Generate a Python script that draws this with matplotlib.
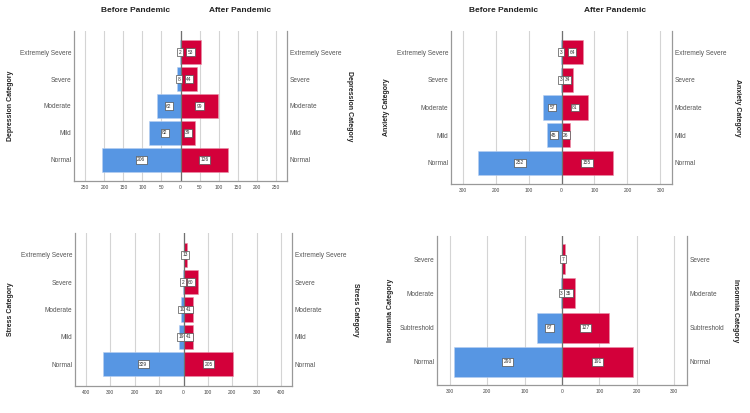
import matplotlib
matplotlib.use("Agg")
import matplotlib.pyplot as plt
import numpy as np

plt.rcParams['font.family'] = ['Liberation Sans', 'DejaVu Sans']

# categories (bottom to top)
dep_cats = ["Normal", "Mild", "Moderate", "Severe", "Extremely Severe"]
dep_before = [206, 82, 62, 8, 2]
dep_after = [126, 39, 99, 44, 53]

anx_cats = ["Normal", "Mild", "Moderate", "Severe", "Extremely Severe"]
anx_before = [252, 45, 57, 3, 3]
anx_after = [155, 26, 81, 34, 64]

str_cats = ["Normal", "Mild", "Moderate", "Severe", "Extremely Severe"]
str_before = [329, 19, 10, 2, 0]
str_after = [205, 41, 41, 60, 13]

ins_cats = ["Normal", "Subtreshold", "Moderate", "Severe"]
ins_before = [290, 67, 3, 0]
ins_after = [191, 127, 35, 7]

BLUE = "#5796e3"
RED = "#d3003a"
W, H = 750, 413

fig = plt.figure(figsize=(7.5, 4.13), dpi=100)


def px(x, y):
    return x / W, 1 - y / H


def panel(rect, cats, before, after, name, lim, step, pad, ylx, yrx, titles=None):
    l, t, r, b = rect
    ax = fig.add_axes([l / W, 1 - b / H, (r - l) / W, (b - t) / H])
    y = np.arange(len(cats))
    bef = np.array(before)
    aft = np.array(after)
    ax.barh(y, -bef, height=0.88, color=BLUE, edgecolor="#b8cff0", linewidth=0.4, zorder=2)
    ax.barh(y, aft, height=0.88, color=RED, edgecolor="#e890a8", linewidth=0.4, zorder=2)
    ax.axvline(0, color="#707070", lw=0.9, zorder=4)
    box = dict(boxstyle="square,pad=0.3", fc="white", ec="#505050", lw=0.5)
    for i in range(len(cats)):
        if bef[i] > 0:
            ax.text(-bef[i] / 2, y[i], str(bef[i]), fontsize=3.5, ha="center", va="center",
                    bbox=box, zorder=5, color="#333333")
        if aft[i] > 0:
            ax.text(aft[i] / 2, y[i], str(aft[i]), fontsize=3.5, ha="center", va="center",
                    bbox=box, zorder=5, color="#333333")
    ax.set_xlim(-lim, lim)
    ax.set_ylim(-pad, len(cats) - 1 + pad)
    ticks = np.arange(-int(lim // step) * step, lim, step)
    ax.set_xticks(ticks)
    ax.set_xticklabels([str(abs(int(v))) for v in ticks], fontsize=3.5, color="#444444")
    ax.grid(axis="x", color="#d4d4d4", lw=0.8, zorder=0)
    ax.set_axisbelow(True)
    ax.set_yticks(y)
    ax.set_yticklabels(cats, fontsize=4.7, color="#555555")
    ax.tick_params(length=0, pad=2)
    ax.tick_params(axis="x", pad=3)
    for s in ["left", "right", "bottom"]:
        ax.spines[s].set_color("#999999")
        ax.spines[s].set_linewidth(0.9)
    ax.spines["top"].set_visible(False)
    ax2 = ax.twinx()
    ax2.set_ylim(ax.get_ylim())
    ax2.set_yticks(y)
    ax2.set_yticklabels(cats, fontsize=4.7, color="#555555")
    ax2.tick_params(length=0, pad=2)
    for s in ax2.spines.values():
        s.set_visible(False)
    mid = (t + b) / 2
    fig.text(*px(ylx, mid), name, rotation=90, fontsize=5, fontweight="bold",
             ha="center", va="center", color="#222222")
    fig.text(*px(yrx, mid), name, rotation=270, fontsize=5, fontweight="bold",
             ha="center", va="center", color="#222222")
    if titles:
        fig.text(*px(titles[0], 10), "Before Pandemic", fontsize=6, fontweight="bold",
                 ha="center", va="center", color="#222222")
        fig.text(*px(titles[1], 10), "After Pandemic", fontsize=6, fontweight="bold",
                 ha="center", va="center", color="#222222")


panel((74, 31, 287, 181), dep_cats, dep_before, dep_after, "Depression Category",
      280, 50, 0.78, 11, 350, titles=(136, 240))
panel((451, 31, 672, 184), anx_cats, anx_before, anx_after, "Anxiety Category",
      335, 100, 0.76, 386, 738, titles=(504, 615))
panel((75, 233, 292, 386), str_cats, str_before, str_after, "Stress Category",
      445, 100, 0.8, 11, 356)
panel((437, 236, 687, 385), ins_cats, ins_before, ins_after, "Insomnia Category",
      335, 100, 0.67, 390, 735)

fig.savefig("out.png", dpi=100)
